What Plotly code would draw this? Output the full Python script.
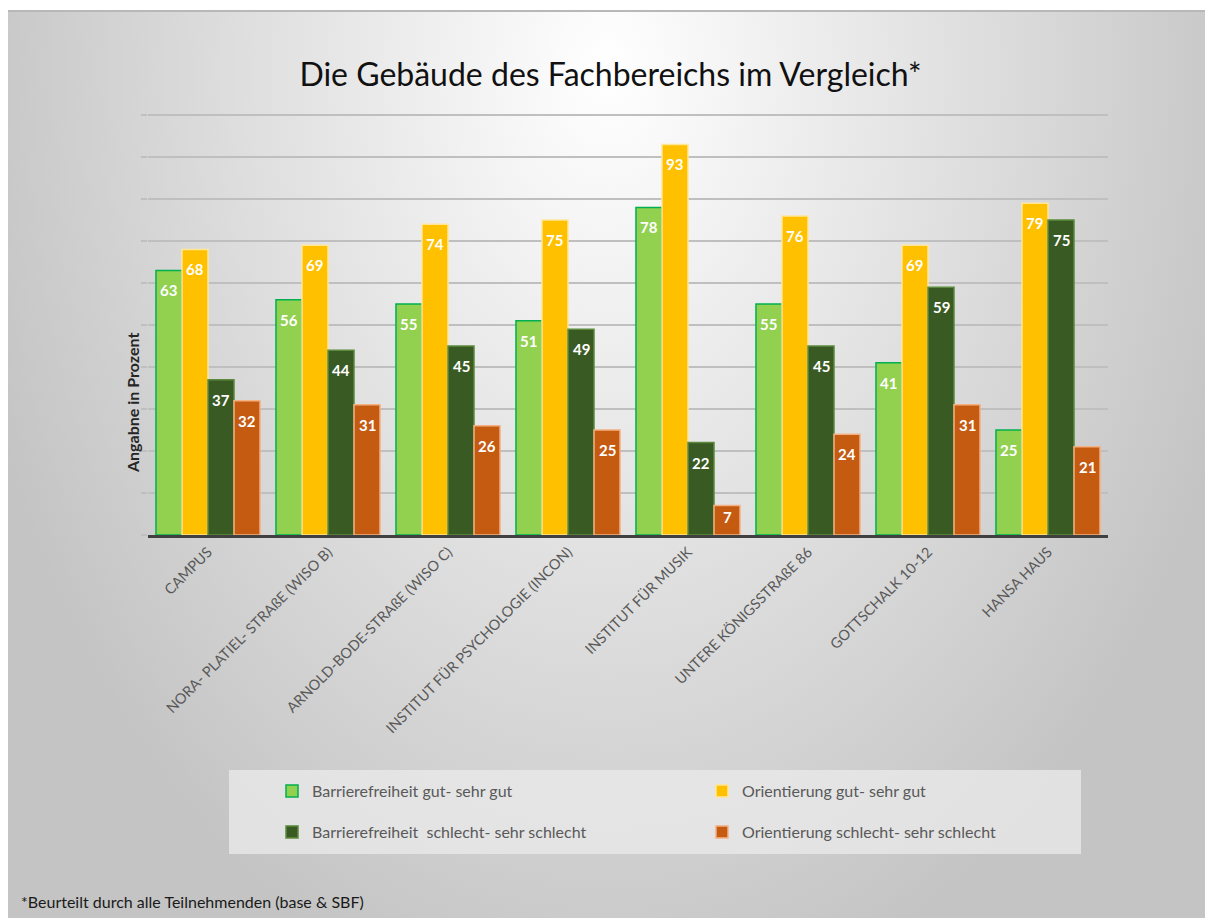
import base64
import plotly.graph_objects as go

categories = ["CAMPUS", "NORA- PLATIEL- STRAßE (WISO B)", "ARNOLD-BODE-STRAßE (WISO C)",
              "INSTITUT FÜR PSYCHOLOGIE (INCON)", "INSTITUT FÜR MUSIK",
              "UNTERE KÖNIGSSTRAßE 86", "GOTTSCHALK 10-12", "HANSA HAUS"]
barriere_gut = [63, 56, 55, 51, 78, 55, 41, 25]
orient_gut = [68, 69, 74, 75, 93, 76, 69, 79]
barriere_schlecht = [37, 44, 45, 49, 22, 45, 59, 75]
orient_schlecht = [32, 31, 26, 25, 7, 24, 31, 21]

series_names = ["Barrierefreiheit gut- sehr gut", "Orientierung gut- sehr gut",
                "Barrierefreiheit  schlecht- sehr schlecht", "Orientierung schlecht- sehr schlecht"]
series_values = [barriere_gut, orient_gut, barriere_schlecht, orient_schlecht]
fill_colors = ["#92D050", "#FFC000", "#3A5A24", "#C55A11"]
line_colors = ["#00B050", "#FFE699", "#5B8A3C", "#F4B183"]
legend_ids = ["legend", "legend", "legend2", "legend2"]

FONT = "Lato"

# Figure geometry (pixels, figure coordinates; page adds an 8px body margin)
W, H = 1205, 910
PL, PR, PT, PB = 140, 1100, 105, 527
pw, ph = PR - PL, PB - PT
YMAX = 100.5
BARGAP = 0.133

def px_x(x):
    return (x - PL) / pw

def px_y(y):
    return (PB - y) / ph

fig = go.Figure()
n_series = len(series_values)
cat_px = pw / len(categories)
bar_px = cat_px * (1 - BARGAP) / n_series
px_per_unit = ph / YMAX

for i, (name, vals, fc, lc, lg) in enumerate(zip(series_names, series_values, fill_colors, line_colors, legend_ids)):
    fig.add_trace(go.Bar(
        x=categories, y=vals, name=name,
        marker=dict(color=fc, line=dict(color=lc, width=1.5)),
        legend=lg, hoverinfo="x+y+name",
    ))
    offset = (i - (n_series - 1) / 2) * bar_px
    for c, v in zip(categories, vals):
        fig.add_annotation(
            x=c, y=v, xref="x", yref="y", text=f"<b>{v}</b>", showarrow=False,
            xshift=offset, yshift=-min(20, v * px_per_unit * 0.4),
            xanchor="center", yanchor="middle",
            font=dict(family=FONT, size=15, color="white"),
        )

# radial gradient background as svg
bx, by = 0, 2
bw, bh = W - bx, H - by
svg = f'''<svg xmlns="http://www.w3.org/2000/svg" width="{bw}" height="{bh}" viewBox="0 0 {bw} {bh}" preserveAspectRatio="none">
<defs><radialGradient id="g" gradientUnits="userSpaceOnUse" cx="0" cy="0" r="1" gradientTransform="translate(600,60) scale(660,960)">
<stop offset="0" stop-color="#ffffff"/><stop offset="1" stop-color="#c4c4c4"/></radialGradient></defs>
<rect x="0" y="0" width="{bw}" height="{bh}" fill="url(#g)"/>
<line x1="0" y1="1" x2="{bw}" y2="1" stroke="#b8b8b8" stroke-width="2"/>
</svg>'''
uri = "data:image/svg+xml;base64," + base64.b64encode(svg.encode("utf-8")).decode("ascii")

fig.add_layout_image(dict(
    source=uri, xref="paper", yref="paper",
    x=px_x(bx), y=px_y(by), sizex=bw / pw, sizey=bh / ph,
    xanchor="left", yanchor="top", sizing="stretch", layer="below",
))

# legend background box
fig.add_shape(type="rect", xref="paper", yref="paper",
              x0=px_x(221), x1=px_x(1073), y0=px_y(846), y1=px_y(762),
              fillcolor="rgba(235,235,235,0.75)", line=dict(width=0), layer="below")

fig.add_annotation(text="*Beurteilt durch alle Teilnehmenden (base &amp; SBF)",
                   xref="paper", yref="paper", x=px_x(11), y=px_y(893),
                   xanchor="left", yanchor="middle", showarrow=False,
                   font=dict(family=FONT, size=16, color="#1a1a1a"))

fig.add_annotation(text="<b>Angabne in Prozent</b>", textangle=-90,
                   xref="paper", yref="paper", x=px_x(124), y=px_y(395),
                   xanchor="center", yanchor="middle", showarrow=False,
                   font=dict(family=FONT, size=16, color="#262626"))

legend_common = dict(orientation="h", xanchor="left", yanchor="middle",
                     bgcolor="rgba(0,0,0,0)", font=dict(family=FONT, size=16, color="#595959"),
                     entrywidth=385, entrywidthmode="pixels", itemwidth=30,
                     traceorder="normal")

fig.update_layout(
    width=W, height=H,
    margin=dict(l=PL, r=W - PR, t=PT, b=H - PB),
    paper_bgcolor="white", plot_bgcolor="rgba(0,0,0,0)",
    barmode="group", bargap=BARGAP, bargroupgap=0,
    title=dict(text="Die Gebäude des Fachbereichs im Vergleich*", x=0.5, xanchor="center",
               xref="container", yref="container", y=1 - 67 / H, yanchor="middle",
               font=dict(family=FONT, size=32, color="#111111")),
    legend=dict(x=px_x(264), y=px_y(783), **legend_common),
    legend2=dict(x=px_x(264), y=px_y(824), **legend_common),
    showlegend=True,
    xaxis=dict(tickangle=-45, tickfont=dict(family=FONT, size=14.5, color="#595959"),
               showline=True, linecolor="#404040", linewidth=3, ticks="",
               showgrid=False),
    yaxis=dict(range=[0, YMAX], dtick=10, tick0=0, showticklabels=False,
               ticks="outside", ticklen=6, tickcolor="#bfbfbf", tickwidth=1.5,
               showgrid=True, gridcolor="#bfbfbf", gridwidth=1.5, zeroline=False),
)

fig.write_html("out.html")
